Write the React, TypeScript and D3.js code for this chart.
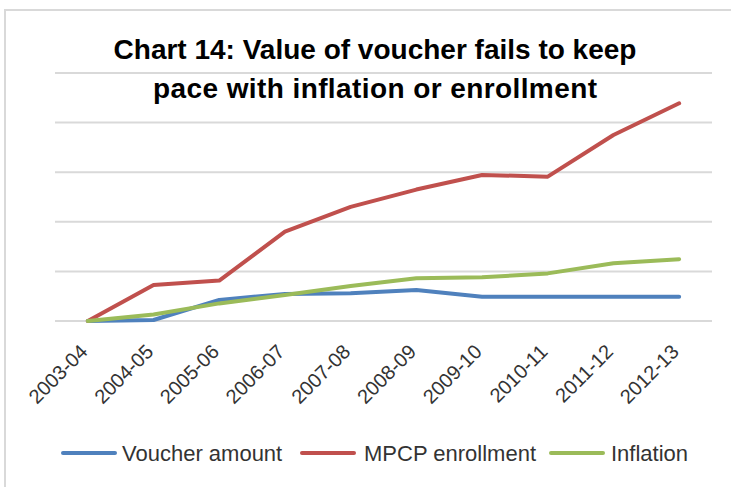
import React from "react";
import * as d3 from "d3";

const categories = ["2003-04", "2004-05", "2005-06", "2006-07", "2007-08", "2008-09", "2009-10", "2010-11", "2011-12", "2012-13"];
const voucherAmount = [0, 0.4, 8.5, 10.9, 11.2, 12.5, 9.8, 9.8, 9.8, 9.8];
const mpcpEnrollment = [0, 14.5, 16.3, 36, 46, 53, 58.9, 58.2, 75, 87.8];
const inflation = [0, 2.6, 7.1, 10.5, 14.1, 17.2, 17.6, 19.2, 23.3, 24.9];
const yTicks = [0, 20, 40, 60, 80, 100];
const seriesNames = ["Voucher amount", "MPCP enrollment", "Inflation"];
const seriesColors = ["#4f81bd", "#c0504d", "#9bbb59"];

const W = 731;
const H = 487;

export default function App() {
  const x = d3.scaleBand<string>().domain(categories).range([55, 712]);
  const y = d3.scaleLinear().domain([0, 100]).range([321, 73]);
  const cx = (c: string) => (x(c) ?? 0) + x.bandwidth() / 2;
  const line = d3
    .line<number>()
    .x((_, i) => cx(categories[i]))
    .y((v) => y(v));
  const series = [voucherAmount, mpcpEnrollment, inflation];

  const legendItems = [
    { lx: 63, tx: 122 },
    { lx: 302, tx: 364 },
    { lx: 551, tx: 611 },
  ];

  return (
    <svg
      width={W}
      height={H}
      style={{ position: "absolute", left: 0, top: 0, background: "#fff" }}
    >
      <rect x={0} y={0} width={W} height={H} fill="#fff" />
      <rect x={5} y={10} width={900} height={700} fill="#fff" stroke="#d9d9d9" strokeWidth={2} />
      {yTicks.map((t) => (
        <line key={t} x1={55} x2={712} y1={y(t)} y2={y(t)} stroke="#d9d9d9" strokeWidth={2} />
      ))}
      <g fontFamily="'Liberation Sans', Arial, sans-serif" fontWeight="bold" fontSize={28} fill="#000" textAnchor="middle">
        <text x={375} y={59}>Chart 14: Value of voucher fails to keep</text>
        <text x={375} y={98} textLength={444} lengthAdjust="spacing">pace with inflation or enrollment</text>
      </g>
      {series.map((s, i) => (
        <path
          key={i}
          d={line(s) ?? ""}
          fill="none"
          stroke={seriesColors[i]}
          strokeWidth={4}
          strokeLinejoin="round"
          strokeLinecap="round"
        />
      ))}
      <g fontFamily="'Liberation Sans', Arial, sans-serif" fontSize={20} fill="#333">
        {categories.map((c) => (
          <text
            key={c}
            textAnchor="end"
            transform={`translate(${cx(c) + 1},${353}) rotate(-45)`}
          >
            {c}
          </text>
        ))}
      </g>
      <g fontFamily="'Liberation Sans', Arial, sans-serif" fontSize={22} fill="#333">
        {legendItems.map((it, i) => (
          <g key={i}>
            <line x1={it.lx} x2={it.lx + 52} y1={453} y2={453} stroke={seriesColors[i]} strokeWidth={4} strokeLinecap="round" />
            <text x={it.tx} y={461}>{seriesNames[i]}</text>
          </g>
        ))}
      </g>
    </svg>
  );
}
